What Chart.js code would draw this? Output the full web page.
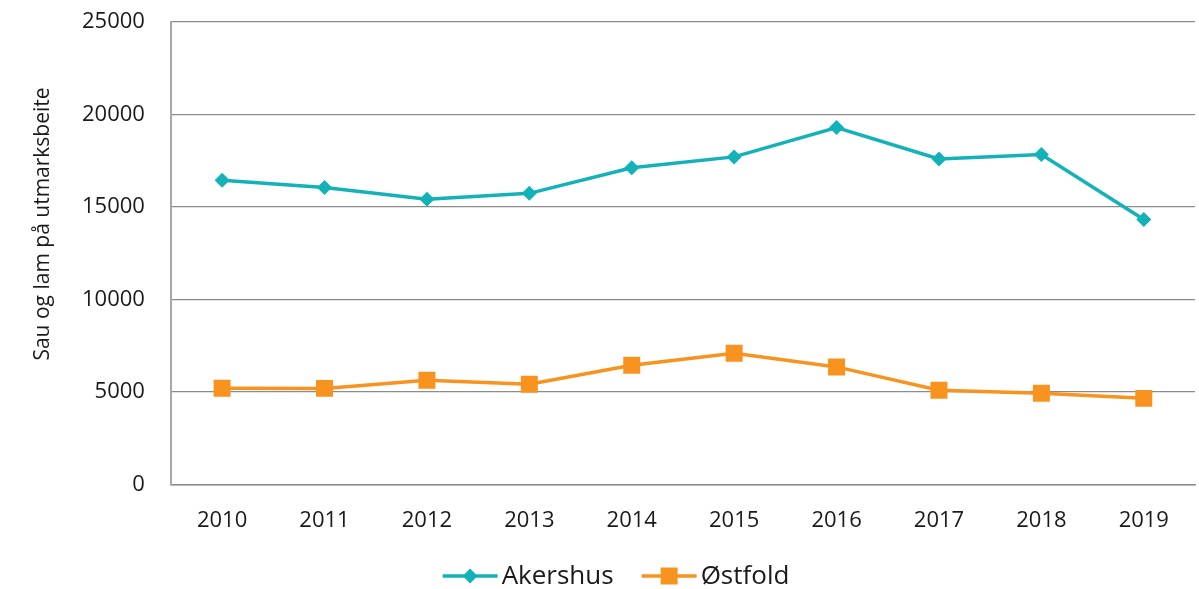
<!DOCTYPE html>
<html lang="no">
<head>
<meta charset="UTF-8">
<script src="https://cdn.jsdelivr.net/npm/chart.js"></script>
<style>
  html, body { margin: 0; padding: 0; background: #fff; }
  .wrap { width: 1199px; height: 589px; }
</style>
</head>
<body>
<div class="wrap"><canvas id="chart" width="1199" height="589"></canvas></div>
<script>
  // Data
  const years = ['2010', '2011', '2012', '2013', '2014', '2015', '2016', '2017', '2018', '2019'];
  const akershus = [16450, 16050, 15420, 15740, 17120, 17710, 19300, 17600, 17840, 14330];
  const ostfold = [5210, 5200, 5640, 5420, 6450, 7100, 6360, 5100, 4940, 4660];
  const yTicks = [0, 5000, 10000, 15000, 20000, 25000];

  const teal = '#13b1b8';
  const orange = '#f7931e';
  const textColor = '#1a1a1a';
  const fontFamily = "'Open Sans', 'Noto Sans', sans-serif";

  // legend like the original: short line with the marker in the middle
  const lineLegend = {
    id: 'lineLegend',
    afterDraw(chart) {
      const ctx = chart.ctx;
      const iconW = 55, gapText = 4, gapItem = 28;
      const y = 576;
      ctx.save();
      ctx.font = '26px ' + fontFamily;
      ctx.textBaseline = 'middle';
      const items = chart.data.datasets.map(ds => ({ ds, w: ctx.measureText(ds.label).width }));
      const total = items.reduce((s, it) => s + iconW + gapText + it.w, 0) + gapItem * (items.length - 1);
      let x = 616 - total / 2;
      items.forEach(it => {
        const ds = it.ds;
        const cx = x + iconW / 2;
        ctx.strokeStyle = ds.borderColor;
        ctx.lineWidth = ds.borderWidth;
        ctx.beginPath(); ctx.moveTo(x, y); ctx.lineTo(x + iconW, y); ctx.stroke();
        ctx.fillStyle = ds.backgroundColor;
        ctx.beginPath();
        if (ds.pointStyle === 'rectRot') {
          const r = ds.pointRadius;
          ctx.moveTo(cx - r, y); ctx.lineTo(cx, y - r); ctx.lineTo(cx + r, y); ctx.lineTo(cx, y + r);
        } else {
          const s = ds.pointRadius * Math.SQRT1_2;
          ctx.rect(cx - s, y - s, 2 * s, 2 * s);
        }
        ctx.closePath(); ctx.fill();
        ctx.fillStyle = textColor;
        ctx.fillText(ds.label, x + iconW + gapText, y + 1);
        x += iconW + gapText + it.w + gapItem;
      });
      ctx.restore();
    }
  };

  // y title sits a bit above the middle of the axis in the original
  const yTitlePlugin = {
    id: 'yTitle',
    afterDraw(chart) {
      const ctx = chart.ctx;
      ctx.save();
      ctx.font = '21px ' + fontFamily;
      ctx.fillStyle = textColor;
      ctx.textAlign = 'center';
      ctx.textBaseline = 'middle';
      ctx.translate(43, 224);
      ctx.rotate(-Math.PI / 2);
      ctx.fillText('Sau og lam på utmarksbeite', 0, 0);
      ctx.restore();
    }
  };

  Chart.defaults.font.family = fontFamily;
  Chart.defaults.color = textColor;

  new Chart(document.getElementById('chart'), {
    type: 'line',
    data: {
      labels: years,
      datasets: [
        {
          label: 'Akershus',
          data: akershus,
          borderColor: teal,
          backgroundColor: teal,
          borderWidth: 3.5,
          pointStyle: 'rectRot',
          pointRadius: 7.5,
          pointBorderWidth: 0,
          tension: 0
        },
        {
          label: 'Østfold',
          data: ostfold,
          borderColor: orange,
          backgroundColor: orange,
          borderWidth: 3.5,
          pointStyle: 'rect',
          pointRadius: 12,
          pointBorderWidth: 0,
          tension: 0
        }
      ]
    },
    options: {
      responsive: false,
      animation: false,
      // title space kept by the left padding, text drawn by yTitlePlugin
      layout: { autoPadding: false, padding: { top: 22, right: 4, left: 82, bottom: 55 } },
      plugins: {
        tooltip: { enabled: false },
        legend: { display: false }
      },
      scales: {
        x: {
          offset: true,
          grid: { display: false, drawTicks: true, tickLength: 23, tickColor: 'rgba(0,0,0,0)' },
          border: { color: '#8c8c8c', width: 1.5 },
          ticks: { padding: 0, font: { size: 22 }, maxRotation: 0 }
        },
        y: {
          min: 0,
          max: 25000,
          afterBuildTicks: function(axis) { axis.ticks = yTicks.map(v => ({ value: v })); },
          grid: { color: '#8c8c8c', lineWidth: 1.2, drawTicks: true, tickLength: 26, tickColor: 'rgba(0,0,0,0)' },
          border: { color: '#a8a8a8', width: 2 },
          ticks: { padding: 0, font: { size: 22 }, callback: v => String(v) },
          title: { display: false }
        }
      }
    },
    plugins: [lineLegend, yTitlePlugin]
  });
</script>
</body>
</html>
